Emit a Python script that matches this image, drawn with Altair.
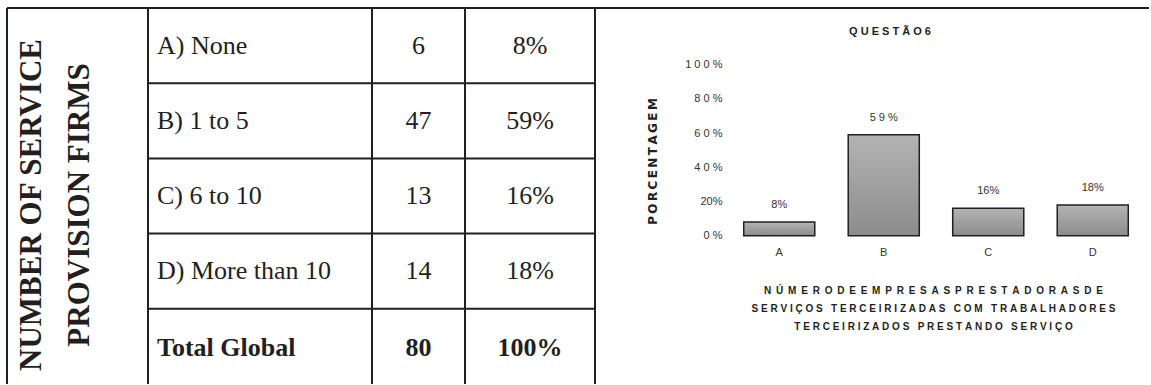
import altair as alt
import pandas as pd

# ---------------- table data ----------------
header_lines = ["NUMBER OF SERVICE", "PROVISION FIRMS"]
row_labels = ["A) None", "B) 1 to 5", "C) 6 to 10", "D) More than 10", "Total Global"]
row_counts = ["6", "47", "13", "14", "80"]
row_percents = ["8%", "59%", "16%", "18%", "100%"]
row_is_total = [False, False, False, False, True]

# ---------------- bar chart data ----------------
categories = ["A", "B", "C", "D"]
percent_values = [8, 59, 16, 18]
bar_labels = ["8%", "5 9 %", "16%", "18%"]
y_tick_values = [0, 20, 40, 60, 80, 100]
y_tick_labels = ["0 %", "20%", "4 0 %", "6 0 %", "8 0 %", "1 0 0 %"]
chart_title = "QUESTÃO6"
y_title = "PORCENTAGEM"
x_title_lines = [
    "NÚMERODEEMPRESASPRESTADORASDE",
    "SERVIÇOS TERCEIRIZADAS COM TRABALHADORES",
    "TERCEIRIZADOS PRESTANDO SERVIÇO",
]

NB = "\u00a0"
THIN = "\u2009"


def track(s, gap=NB, word_gap=NB * 3):
    return word_gap.join(gap.join(list(w)) for w in s.split(" "))


def nb(s):
    return s.replace(" ", NB)


LINE = "#231f20"
TXT = "#231f20"
H = 376
SERIF = "Liberation Serif"
SANS = "Liberation Sans"
FS = 26

table_df = pd.DataFrame(
    {"row": row_labels, "count": row_counts, "pct": row_percents, "total": row_is_total}
)


def y_rows(**kw):
    return alt.Y("row:N", sort=row_labels, axis=None,
                 scale=alt.Scale(paddingInner=0, paddingOuter=0), **kw)


def table_column(field, width, align, xpos, right_edge=False):
    base = alt.Chart(table_df)
    hlines = base.mark_rule(color=LINE, strokeWidth=2).encode(y=y_rows(bandPosition=0))
    vline = base.mark_rule(color=LINE, strokeWidth=2).encode(
        x=alt.value(0), y=alt.value(0), y2=alt.value(H))
    layers = [hlines, vline]
    if right_edge:
        layers.append(base.mark_rule(color=LINE, strokeWidth=2).encode(
            x=alt.value(width), y=alt.value(0), y2=alt.value(H)))
    normal = base.transform_filter("!datum.total").mark_text(
        font=SERIF, fontSize=FS, align=align, baseline="middle", color=TXT
    ).encode(y=y_rows(), x=alt.value(xpos), text=f"{field}:N")
    bold = base.transform_filter("datum.total").mark_text(
        font=SERIF, fontSize=FS, fontWeight="bold", align=align, baseline="middle",
        color=TXT, dy=2
    ).encode(y=y_rows(), x=alt.value(xpos), text=f"{field}:N")
    layers += [normal, bold]
    return alt.layer(*layers).properties(width=width, height=H)


# header column (merged cell)
head_df = pd.DataFrame({"h": ["\n".join(header_lines)]})
head_base = alt.Chart(head_df)
head_col = alt.layer(
    head_base.mark_rule(color=LINE, strokeWidth=2).encode(
        x=alt.value(0), x2=alt.value(141), y=alt.value(0)),
    head_base.mark_rule(color=LINE, strokeWidth=2).encode(
        x=alt.value(0), y=alt.value(0), y2=alt.value(H)),
    head_base.mark_text(font=SERIF, fontSize=31, fontWeight="bold", angle=270,
                        lineBreak="\n", lineHeight=48, align="center",
                        baseline="middle", color=TXT).encode(
        x=alt.value(25), y=alt.value(197), text="h:N"),
).properties(width=141, height=H)

col_label = table_column("row", 224, "left", 9)
col_count = table_column("count", 93, "center", 46.5)
col_pct = table_column("pct", 130, "center", 65, right_edge=True)

# ---------------- bar chart ----------------
WB = 554
bars_df = pd.DataFrame({"cat": categories, "val": percent_values,
                        "lab": [nb(s) for s in bar_labels]})

label_expr = ""
for v, t in zip(y_tick_values, y_tick_labels):
    label_expr += f"datum.value == {v} ? '{nb(t)}' : "
label_expr += "''"

x_enc = alt.X(
    "cat:N", sort=categories,
    scale=alt.Scale(range=[132, 550], paddingInner=0.32, paddingOuter=0.16),
    axis=alt.Axis(
        labelAngle=0, labelFont=SANS, labelFontSize=11, labelColor="#333333",
        labelPadding=11, ticks=False, domain=False, grid=False, offset=-148.3,
        title=[track(x_title_lines[0], gap=NB + THIN)] + [track(s) for s in x_title_lines[1:]],
        titleFont=SANS, titleFontSize=10, titleFontWeight="bold", titleColor=TXT,
        titleLineHeight=18, titleAlign="center", titleBaseline="top",
        titleX=338, titleY=50,
    ),
)
y_enc = alt.Y(
    "val:Q",
    scale=alt.Scale(domain=[0, 100], range=[227.7, 56.7], nice=False),
    axis=alt.Axis(
        values=y_tick_values, labelExpr=label_expr, labelFont=SANS, labelFontSize=11,
        labelColor="#333333", labelPadding=1, ticks=False, domain=False, grid=False,
        offset=-128, title=THIN.join(list(y_title)), titleFont="DejaVu Sans",
        titleFontSize=12, titleFontWeight="bold", titleColor=TXT, titleAngle=270,
        titleAlign="center", titleBaseline="middle", titleX=-70.5, titleY=153,
    ),
)

bar_base = alt.Chart(bars_df)
gradient = {
    "gradient": "linear",
    "x1": 0, "x2": 0, "y1": 0, "y2": 1,
    "stops": [{"offset": 0, "color": "#b3b3b3"}, {"offset": 1, "color": "#8c8c8c"}],
}
bars = bar_base.mark_bar(fill=gradient, stroke=LINE, strokeWidth=1.5).encode(x=x_enc, y=y_enc)
bar_text = bar_base.mark_text(font=SANS, fontSize=11, color="#333333", dy=-17,
                              baseline="middle").encode(x=x_enc, y=y_enc, text="lab:N")
top_line = bar_base.mark_rule(color=LINE, strokeWidth=2).encode(
    x=alt.value(0), x2=alt.value(WB), y=alt.value(0))
title_df = pd.DataFrame({"t": [track(chart_title)]})
title_mark = alt.Chart(title_df).mark_text(
    font=SANS, fontSize=11, fontWeight="bold", color=TXT, baseline="middle", align="center"
).encode(x=alt.value(295), y=alt.value(24), text="t:N")

bar_panel = alt.layer(top_line, bars, bar_text, title_mark).properties(width=WB, height=H)

chart = alt.hconcat(head_col, col_label, col_count, col_pct, bar_panel,
                    spacing=0, bounds="flush").properties(
    padding={"left": 6, "top": 7, "right": 0, "bottom": 0}
).configure_view(stroke=None)

chart.save("out.html", embed_options={"renderer": "svg", "actions": False})
